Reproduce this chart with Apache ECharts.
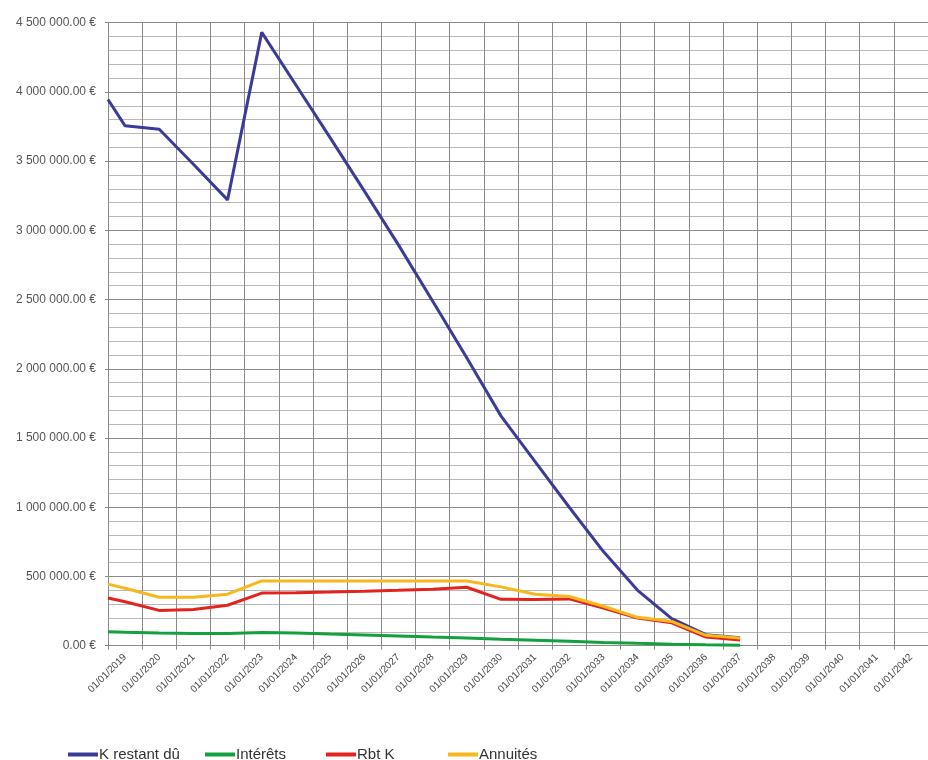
<!DOCTYPE html>
<html>
<head>
<meta charset="utf-8">
<script src="https://cdn.jsdelivr.net/npm/echarts/dist/echarts.min.js"></script>
<style>
html,body{margin:0;padding:0;background:#fff;}
#c{width:928px;height:760px;}
</style>
</head>
<body>
<div id="c"></div>
<script>
// Category (tick) labels of the date axis
const categories = ["01/01/2019","01/01/2020","01/01/2021","01/01/2022","01/01/2023","01/01/2024","01/01/2025","01/01/2026","01/01/2027","01/01/2028","01/01/2029","01/01/2030","01/01/2031","01/01/2032","01/01/2033","01/01/2034","01/01/2035","01/01/2036","01/01/2037","01/01/2038","01/01/2039","01/01/2040","01/01/2041","01/01/2042"];
// Position (in years) of each data point
const pointYears = [2018.5, 2019, 2020, 2021, 2022, 2023, 2024, 2025, 2026, 2027, 2028, 2029, 2030, 2031, 2032, 2033, 2034, 2035, 2036, 2037];
// Series values (€)
const kRestantDu = [3945000, 3755000, 3730000, 3478000, 3220000, 4430000, 4050000, 3670000, 3285000, 2895000, 2490000, 2080000, 1660000, 1330000, 1000000, 680000, 400000, 195000, 80000, 58000];
const interets   = [100000, 97000, 92000, 89000, 88000, 95000, 92000, 84000, 77000, 70000, 62000, 55000, 46000, 39000, 32000, 24000, 17000, 11000, 6000, 3000];
const rbtK       = [345000, 318000, 255000, 262000, 292000, 380000, 383000, 387000, 393000, 400000, 408000, 422000, 335000, 333000, 338000, 272000, 200000, 165000, 62000, 42000];
const annuites   = [445000, 415000, 350000, 350000, 372000, 468000, 468000, 468000, 468000, 468000, 468000, 468000, 425000, 372000, 355000, 285000, 205000, 175000, 75000, 55000];
// Y axis range
const yMin = 0, yMax = 4500000, yStep = 500000;

function pairs(vals){ return vals.map((v,i)=>[pointYears[i], v]); }
function fmtEuro(v){
  const s = v.toFixed(2);
  const [ip, dp] = s.split('.');
  return ip.replace(/\B(?=(\d{3})+(?!\d))/g, ' ') + '.' + dp + ' €';
}

const chart = echarts.init(document.getElementById('c'), null, {renderer:'canvas'});
const fontFam = "'Liberation Sans Narrow','Liberation Sans',Arial,sans-serif";
const mkLegend = (name, left) => ({
  data:[name], left:left, top:742, itemWidth:30, itemHeight:4, icon:'rect',
  itemGap:2, textStyle:{fontSize:15, color:'#333', fontFamily:fontFam, padding:[0,0,0,-4]}
});
chart.setOption({
  animation:false,
  backgroundColor:'#fff',
  grid:{left:108, top:22.7, width:828, height:623, containLabel:false},
  legend:[mkLegend('K restant dû',63), mkLegend('Intérêts',200), mkLegend('Rbt K',321), mkLegend('Annuités',443)],
  xAxis:[
    {type:'category', data:categories, boundaryGap:true,
     axisLine:{show:true, lineStyle:{color:'#8a8a8a', width:1}},
     axisTick:{show:true, length:4, lineStyle:{color:'#8a8a8a'}},
     axisLabel:{interval:0, rotate:45, fontSize:10, color:'#444', fontFamily:fontFam, margin:10},
     splitLine:{show:true, lineStyle:{color:'#8a8a8a', width:1}}},
    {type:'value', min:2018.5, max:2042.5, show:false,
     splitLine:{show:false}}
  ],
  yAxis:{type:'value', min:yMin, max:yMax, interval:yStep,
    axisLine:{show:true, lineStyle:{color:'#8a8a8a'}},
    axisTick:{show:true, length:3, lineStyle:{color:'#8a8a8a'}},
    axisLabel:{formatter:fmtEuro, fontSize:12, color:'#555', fontFamily:fontFam, margin:12},
    splitLine:{show:true, lineStyle:{color:'#8a8a8a', width:1}},
    minorTick:{show:false, splitNumber:5},
    minorSplitLine:{show:true, lineStyle:{color:'#b8b8b8', width:1}}
  },
  series:[
    {name:'K restant dû', type:'line', xAxisIndex:1, data:pairs(kRestantDu), showSymbol:false, symbol:'none',
     lineStyle:{color:'#3b3b98', width:3}, itemStyle:{color:'#3b3b98'}},
    {name:'Intérêts', type:'line', xAxisIndex:1, data:pairs(interets), showSymbol:false, symbol:'none',
     lineStyle:{color:'#15a040', width:3}, itemStyle:{color:'#15a040'}},
    {name:'Rbt K', type:'line', xAxisIndex:1, data:pairs(rbtK), showSymbol:false, symbol:'none',
     lineStyle:{color:'#e4231f', width:3}, itemStyle:{color:'#e4231f'}},
    {name:'Annuités', type:'line', xAxisIndex:1, data:pairs(annuites), showSymbol:false, symbol:'none',
     lineStyle:{color:'#f6b81c', width:3}, itemStyle:{color:'#f6b81c'}}
  ]
});
</script>
</body>
</html>
